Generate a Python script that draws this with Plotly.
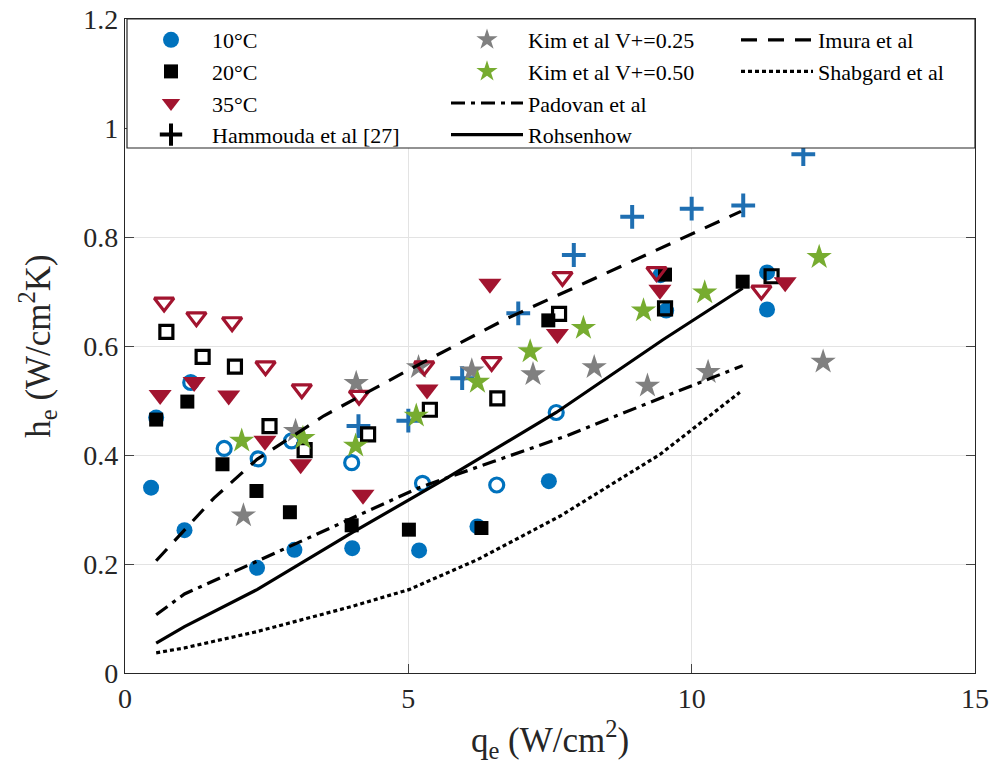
import plotly.graph_objects as go

# ---------------- data ----------------
c10_x = [0.46, 0.55, 1.05, 2.33, 2.99, 4.01, 5.19, 6.22, 7.48, 9.45, 9.55, 11.33, 11.33]
c10_y = [0.340, 0.469, 0.262, 0.193, 0.226, 0.229, 0.225, 0.269, 0.352, 0.730, 0.665, 0.667, 0.735]
c10o_x = [1.16, 1.75, 2.35, 2.94, 4.00, 5.25, 6.56, 7.61]
c10o_y = [0.533, 0.412, 0.393, 0.426, 0.386, 0.348, 0.345, 0.478]

c20_x = [0.55, 1.10, 1.72, 2.32, 2.91, 4.00, 5.01, 6.29, 7.47, 9.53, 10.90]
c20_y = [0.465, 0.498, 0.383, 0.334, 0.295, 0.271, 0.263, 0.266, 0.647, 0.731, 0.718]
c20o_x = [0.73, 1.37, 1.94, 2.55, 3.17, 4.29, 5.38, 6.57, 7.66, 9.53, 11.41]
c20o_y = [0.626, 0.580, 0.562, 0.453, 0.409, 0.438, 0.483, 0.504, 0.659, 0.669, 0.728]

c35_x = [0.62, 1.22, 1.83, 2.47, 3.10, 4.20, 5.33, 6.44, 7.63, 9.44, 11.65]
c35_y = [0.510, 0.534, 0.509, 0.426, 0.383, 0.327, 0.520, 0.714, 0.622, 0.703, 0.717]
c35o_x = [0.69, 1.26, 1.89, 2.48, 3.12, 4.13, 5.28, 6.47, 7.72, 9.38, 11.23]
c35o_y = [0.680, 0.653, 0.644, 0.563, 0.521, 0.509, 0.563, 0.571, 0.727, 0.736, 0.702]

ham_x = [4.12, 5.00, 5.95, 6.94, 7.92, 8.95, 10.00, 10.91, 11.97]
ham_y = [0.453, 0.463, 0.541, 0.660, 0.767, 0.837, 0.852, 0.858, 0.952]

kim25_x = [2.09, 3.01, 4.08, 5.18, 6.12, 7.20, 8.28, 9.22, 10.29, 12.32]
kim25_y = [0.289, 0.444, 0.532, 0.561, 0.555, 0.548, 0.561, 0.527, 0.552, 0.571]
kim50_x = [2.06, 3.14, 4.07, 5.14, 6.22, 7.15, 8.09, 9.15, 10.23, 12.25]
kim50_y = [0.426, 0.431, 0.417, 0.472, 0.534, 0.590, 0.633, 0.665, 0.698, 0.763]

imura_x = [0.55, 1.57, 2.33, 3.51, 5.04, 6.73, 8.14, 9.50, 10.87]
imura_y = [0.206, 0.321, 0.392, 0.472, 0.558, 0.650, 0.717, 0.782, 0.847]
padovan_x = [0.55, 1.05, 2.33, 4.00, 5.19, 6.50, 7.79, 9.56, 10.90]
padovan_y = [0.107, 0.145, 0.205, 0.283, 0.340, 0.388, 0.435, 0.509, 0.564]
rohs_x = [0.55, 1.05, 2.33, 4.00, 5.63, 7.61, 9.50, 10.90]
rohs_y = [0.055, 0.085, 0.153, 0.257, 0.355, 0.478, 0.612, 0.706]
shab_x = [0.55, 1.05, 2.33, 4.00, 5.01, 6.22, 7.68, 9.44, 10.85]
shab_y = [0.037, 0.046, 0.076, 0.122, 0.153, 0.208, 0.288, 0.401, 0.515]

x_ticks = [0, 5, 10, 15]
y_ticks = [0, 0.2, 0.4, 0.6, 0.8, 1.0, 1.2]

# ---------------- style ----------------
BLUE = "#0072BD"
PLUS = "#1F6FB2"
RED = "#A2142F"
GREY = "#808080"
GREEN = "#77AC30"
FONT = "Liberation Serif, Times New Roman, serif"
AX = "#262626"

fig = go.Figure()

def mk(x, y, name, symbol, color, size, legend="legend", show=True, open_=False, lw=0):
    if open_:
        marker = dict(symbol=symbol + "-open", size=size, color=color,
                      line=dict(color=color, width=3.2))
    else:
        marker = dict(symbol=symbol, size=size, color=color,
                      line=dict(color=color, width=lw))
    fig.add_trace(go.Scatter(x=x, y=y, mode="markers", name=name, marker=marker,
                             showlegend=show, legend=legend))

mk(c10_x, c10_y, "10°C", "circle", BLUE, 16)
fig.add_trace(go.Scatter(x=ham_x, y=ham_y, mode="markers", showlegend=False,
                         marker=dict(symbol="cross-thin", size=17,
                                     line=dict(color=PLUS, width=4))))
mk(c10o_x, c10o_y, "10°C open", "circle", BLUE, 14, show=False, open_=True)
mk(c20_x, c20_y, "20°C", "square", "black", 14)
mk(c20o_x, c20o_y, "20°C open", "square", "black", 13, show=False, open_=True)
mk(kim25_x, kim25_y, "Kim et al V+=0.25", "star", GREY, 19, legend="legend2")
mk(kim50_x, kim50_y, "Kim et al V+=0.50", "star", GREEN, 19, legend="legend2")
mk(c35_x, c35_y, "35°C", "triangle-down", RED, 20)
mk(c35o_x, c35o_y, "35°C open", "triangle-down", RED, 17, show=False, open_=True)

# legend-only entry for Hammouda (legend symbol is black in the reference)
fig.add_trace(go.Scatter(x=[None], y=[None], mode="markers", name="Hammouda et al [27]",
                         marker=dict(symbol="cross-thin", size=16,
                                     line=dict(color="black", width=4)),
                         legend="legend"))

def ln(x, y, name, dash, legend):
    fig.add_trace(go.Scatter(x=x, y=y, mode="lines", name=name, legend=legend,
                             line=dict(color="black", width=3.2, dash=dash)))

ln(padovan_x, padovan_y, "Padovan et al", "14px,6px,4px,6px", "legend2")
ln(rohs_x, rohs_y, "Rohsenhow", "solid", "legend2")
ln(imura_x, imura_y, "Imura et al", "16px,11px", "legend3")
ln(shab_x, shab_y, "Shabgard et al", "4px,3px", "legend3")

W, H = 994, 782
L, R, T, B = 125, 19, 19, 109
pw = W - L - R
ph = H - T - B

def px(xp):
    return (xp - L) / pw

def py(yp):
    return 1 - (yp - T) / ph

leg_common = dict(font=dict(family=FONT, size=22, color="black"), bgcolor="rgba(0,0,0,0)",
                  borderwidth=0, xanchor="left", yanchor="top", traceorder="normal",
                  tracegroupgap=0, itemwidth=72)

fig.update_layout(
    width=W, height=H,
    margin=dict(l=L, r=R, t=T, b=B),
    paper_bgcolor="white", plot_bgcolor="white",
    font=dict(family=FONT, size=27, color=AX),
    legend=dict(x=px(130), y=1, **leg_common),
    legend2=dict(x=px(446), y=1, **leg_common),
    legend3=dict(x=px(736), y=1, **leg_common),
    shapes=[dict(type="rect", xref="paper", yref="paper",
                 x0=px(127), x1=px(975), y0=py(148), y1=1,
                 line=dict(color=AX, width=1.2), fillcolor="white", layer="above")],
    xaxis=dict(range=[0, 15], tickvals=x_ticks, ticks="inside", ticklen=9,
               showline=True, linecolor=AX, linewidth=1.2, mirror="ticks",
               showgrid=True, gridcolor="#E3E3E3", gridwidth=1, zeroline=False,
               automargin=False,
               tickfont=dict(family=FONT, size=28, color=AX),
               title=dict(text="q<sub>e</sub> (W/cm<sup>2</sup>)",
                          font=dict(family=FONT, size=35, color=AX), standoff=14)),
    yaxis=dict(range=[0, 1.2], tickvals=y_ticks, ticks="inside", ticklen=9,
               showline=True, linecolor=AX, linewidth=1.2, mirror="ticks",
               showgrid=True, gridcolor="#E3E3E3", gridwidth=1, zeroline=False,
               automargin=False,
               tickfont=dict(family=FONT, size=28, color=AX),
               title=dict(text="h<sub>e</sub> (W/cm<sup>2</sup>K)",
                          font=dict(family=FONT, size=35, color=AX), standoff=22)),
)

fig.write_html("out.html")
